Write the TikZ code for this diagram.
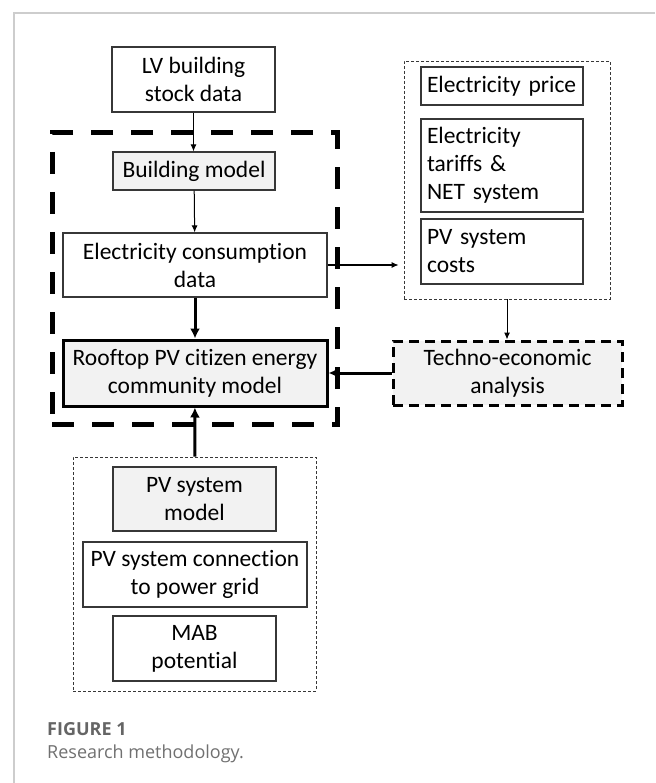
\documentclass[tikz,border=0pt]{standalone}
\usepackage{fontspec}
\setmainfont{Carlito}[Ligatures=NoCommon]
\newfontfamily\captionfont{Open Sans}
\usetikzlibrary{arrows.meta}
\definecolor{boxfill}{RGB}{242,242,242}
\definecolor{boxline}{RGB}{55,55,55}
\definecolor{framegray}{RGB}{205,205,205}
\definecolor{captiongray}{RGB}{112,112,112}

\begin{document}
\begin{tikzpicture}[x=1pt,y=-1pt]
        % Define styles
        \tikzset{
            block/.style={draw=boxline, line width=1.2pt, font=\fontsize{23.5}{28}\selectfont, align=center, inner sep=0pt},
            shaded/.style={block, fill=boxfill},
            listbox/.style={block, align=left, text width=150pt, inner xsep=6pt},
            group/.style={draw=boxline, line width=0.9pt, dash pattern=on 3pt off 2pt, inner sep=0pt},
            thinarrow/.style={-{Latex[length=7pt,width=6pt]}, line width=1pt},
            thickarrow/.style={-{Latex[length=10pt,width=10pt]}, line width=3pt},
            caption/.style={anchor=west, inner sep=0pt, text=captiongray, font=\captionfont\fontsize{18}{22}\selectfont}
        }
        \useasboundingbox (0,0) rectangle (655,783);
        % Page frame
        \draw[framegray, line width=1.3pt] (655,13) -- (14,13) -- (14,783);
        % Core model (thick dashed frame)
        \node[draw=black, line width=5pt, dash pattern=on 22pt off 18pt, minimum width=285pt, minimum height=291pt] (core) at (194.5,278.5) {};
        % Building side
        \node[block, minimum width=163pt, minimum height=65pt] (stock) at (193.5,79.5) {LV building\\stock data};
        \node[shaded, minimum width=162pt, minimum height=38pt] (building) at (194,171) {Building model};
        \node[block, minimum width=264pt, minimum height=64pt] (consumption) at (195,265) {Electricity consumption\\data};
        \node[shaded, draw=black, line width=3pt, minimum width=264pt, minimum height=66pt] (rooftop) at (195,373) {Rooftop PV citizen energy\\community model};
        % Economic inputs
        \node[group, minimum width=206pt, minimum height=238pt] (costs) at (507,180) {};
        \node[listbox, minimum height=38pt] (price) at (502,86) {Electricity price};
        \node[listbox, minimum height=93pt] (tariffs) at (502,165.5) {Electricity\\tariffs \&\\NET system};
        \node[listbox, minimum height=65pt] (pvcosts) at (502,251.5) {PV system\\costs};
        \node[shaded, draw=black, line width=3pt, dash pattern=on 10pt off 6pt, minimum width=229pt, minimum height=64pt] (techno) at (507.5,373) {Techno-economic\\analysis};
        % PV inputs
        \node[group, minimum width=243pt, minimum height=234pt] (pvgroup) at (194.5,574) {};
        \node[shaded, minimum width=163pt, minimum height=64pt] (pvmodel) at (194.5,499) {PV system\\model};
        \node[block, minimum width=224pt, minimum height=65pt] (connection) at (195,574.5) {PV system connection\\to power grid};
        \node[block, minimum width=163pt, minimum height=65pt] (mab) at (194.5,648.5) {MAB\\potential};
        % Connectors
        \draw[thinarrow] (stock.south) -- (stock.south |- building.north);
        \draw[thinarrow] (building) -- (consumption);
        \draw[thickarrow] (consumption) -- (rooftop);
        \draw[thinarrow, shorten >=5pt] (consumption.east) -- (consumption.east -| costs.west);
        \draw[thinarrow] (costs.south) -- (costs.south |- techno.north);
        \draw[thickarrow] (techno) -- (rooftop);
        \draw[thickarrow] (pvgroup) -- (rooftop);
        % Caption
        \node[caption, font=\captionfont\bfseries\fontsize{18}{22}\selectfont, text=captiongray!90!black] (figlabel) at (47,729) {FIGURE 1};
        \node[caption] (figtext) at (47,754) {Research methodology.};
\end{tikzpicture}
\end{document}
